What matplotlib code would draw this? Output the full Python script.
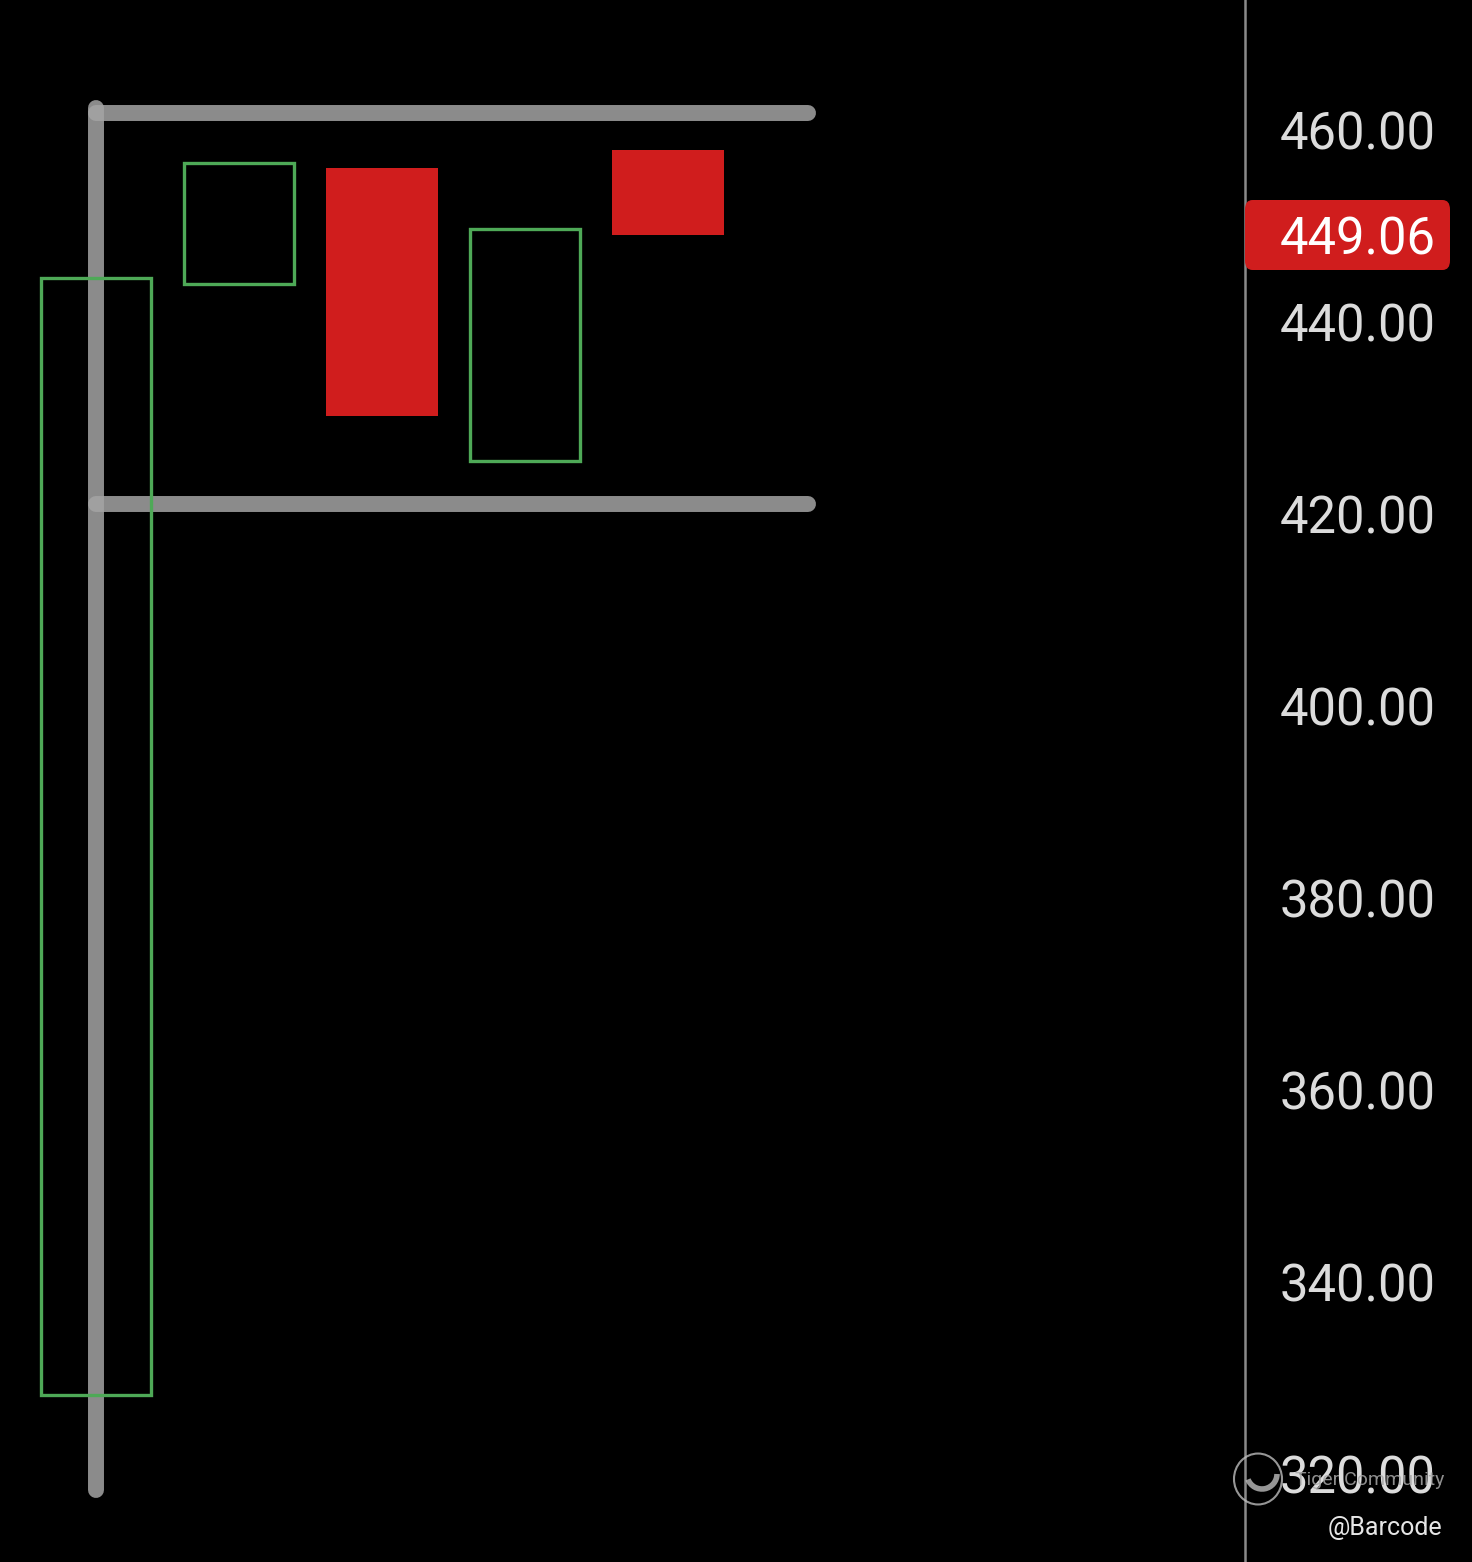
import matplotlib.pyplot as plt
from matplotlib.patches import FancyBboxPatch, Circle, Arc
from matplotlib.transforms import blended_transform_factory

# candle data (index, open, close)
idx = [0, 1, 2, 3, 4]
opens = [328.2, 444.0, 456.0, 425.5, 457.9]
closes = [444.6, 456.6, 430.2, 449.7, 449.06]
last_price = 449.06

# grey drawn levels
level_lines = [461.8, 421.0]
level_end = 4.98
pole_low, pole_high = 318.3, 462.3

yticks = [320, 340, 360, 380, 400, 420, 440, 460]

GREEN = "#4ea957"
RED = "#d01d1d"
GREY = "#a4a4a4"

plt.rcParams["font.family"] = ["Roboto", "DejaVu Sans"]

fig = plt.figure(figsize=(14.72, 15.62), dpi=100, facecolor="black")
ax = fig.add_axes([0, 0, 1245 / 1472, 1])
ax.set_facecolor("black")
ax.set_xlim(-0.671, 8.035)
ax.set_ylim(310.83, 473.54)

# grey flag lines
ax.plot([0, 0], [pole_low, pole_high], color=GREY, lw=11.5, alpha=0.85,
        solid_capstyle="round", zorder=1)
for lv in level_lines:
    ax.plot([0, level_end], [lv, lv], color=GREY, lw=11.5, alpha=0.85,
            solid_capstyle="round", zorder=1)

# candles
for i, o, c in zip(idx, opens, closes):
    lo, hi = min(o, c), max(o, c)
    if c >= o:
        ax.bar(i, hi - lo, bottom=lo, width=0.77, facecolor="none",
               edgecolor=GREEN, linewidth=2.4, zorder=3)
    else:
        ax.bar(i, hi - lo, bottom=lo, width=0.78, color=RED,
               edgecolor="none", zorder=3)

# right axis
for s in ["top", "left", "bottom"]:
    ax.spines[s].set_visible(False)
ax.spines["right"].set_color("#8a8a8a")
ax.spines["right"].set_linewidth(1.8)
ax.set_xticks([])
ax.yaxis.tick_right()
ax.set_yticks(yticks)
ax.set_yticklabels(["%.2f" % v for v in yticks])
ax.tick_params(axis="y", length=0, pad=25, labelsize=36.5, labelcolor="#dcdcdc")

# last price tag
ylo, yhi = ax.get_ylim()
yf = (last_price - ylo) / (yhi - ylo)
tag_h = 70 / 1562
tag = FancyBboxPatch((1.0, yf - tag_h / 2), 205 / 1245, tag_h,
                     boxstyle="round,pad=0,rounding_size=0.006",
                     transform=ax.transAxes, facecolor=RED, edgecolor="none",
                     clip_on=False, zorder=5)
ax.add_patch(tag)
trans = blended_transform_factory(ax.transAxes, ax.transData)
ax.text(1280 / 1245, last_price, "%.2f" % last_price, transform=trans,
        color="white", fontsize=36.5, va="center_baseline", ha="left",
        zorder=6, clip_on=False)

# watermark
fig.patches.append(Circle((1258 / 1472, 1 - 1479 / 1562), 24 / 1472,
                          transform=fig.transFigure, fill=False,
                          edgecolor="#bdbdbd", lw=1.5, alpha=0.8))
fig.patches.append(Arc((1262 / 1472, 1 - 1474 / 1562), 30 / 1472, 30 / 1562,
                       theta1=200, theta2=360, transform=fig.transFigure,
                       edgecolor="#bdbdbd", lw=4, alpha=0.8))
fig.text(1295 / 1472, 1 - 1480 / 1562, "Tiger Community", color="#a8a8a8",
         fontsize=14, va="center", ha="left", alpha=0.85)
fig.text(1442 / 1472, 1 - 1528 / 1562, "@Barcode", color="#e6e6e6",
         fontsize=18, va="center", ha="right")

fig.savefig("out.png", dpi=100, facecolor="black")
